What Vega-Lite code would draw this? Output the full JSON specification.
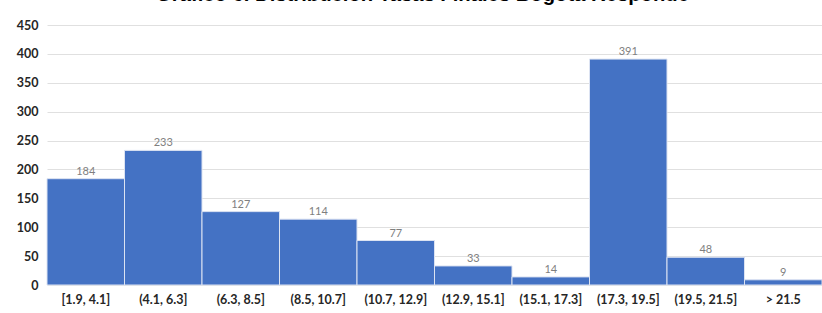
{
  "$schema": "https://vega.github.io/schema/vega-lite/v6.json",
  "autosize": "none",
  "width": 775,
  "height": 260,
  "padding": {"left": 47, "top": 25, "right": 0, "bottom": 28},
  "background": "white",
  "title": {
    "text": "Gráfico 6. Distribución Tasas Finales Bogotá Responde",
    "font": "Liberation Sans",
    "fontSize": 20.25,
    "fontWeight": "bold",
    "color": "#000000",
    "anchor": "middle",
    "baseline": "bottom",
    "offset": 0,
    "dy": 6,
    "dx": -12
  },
  "data": {
    "values": [
      {"rango": "[1.9, 4.1]", "n": 184},
      {"rango": "(4.1, 6.3]", "n": 233},
      {"rango": "(6.3, 8.5]", "n": 127},
      {"rango": "(8.5, 10.7]", "n": 114},
      {"rango": "(10.7, 12.9]", "n": 77},
      {"rango": "(12.9, 15.1]", "n": 33},
      {"rango": "(15.1, 17.3]", "n": 14},
      {"rango": "(17.3, 19.5]", "n": 391},
      {"rango": "(19.5, 21.5]", "n": 48},
      {"rango": "> 21.5", "n": 9}
    ]
  },
  "encoding": {
    "x": {
      "field": "rango",
      "type": "nominal",
      "sort": null,
      "scale": {"paddingInner": 0, "paddingOuter": 0},
      "axis": {
        "title": null,
        "labelAngle": 0,
        "domain": false,
        "ticks": false,
        "labelPadding": 8,
        "labelFont": "Lato",
        "labelFontSize": 12.5,
        "labelFontWeight": "bold",
        "labelColor": "#262626"
      }
    },
    "y": {
      "field": "n",
      "type": "quantitative",
      "scale": {"domain": [0, 450]},
      "axis": {
        "title": null,
        "values": [0, 50, 100, 150, 200, 250, 300, 350, 400, 450],
        "domain": false,
        "ticks": false,
        "labelPadding": 9,
        "labelFont": "Lato",
        "labelFontSize": 12.5,
        "labelFontWeight": "bold",
        "labelColor": "#262626",
        "gridColor": "#e0e0e0",
        "gridWidth": 1
      }
    }
  },
  "layer": [
    {
      "mark": {"type": "bar", "color": "#4472C4", "stroke": "#dce3f2", "strokeWidth": 1}
    },
    {
      "mark": {"type": "text", "baseline": "bottom", "dy": -2, "font": "Lato", "fontSize": 11, "color": "#7f7f7f"},
      "encoding": {"text": {"field": "n", "type": "quantitative"}}
    }
  ],
  "config": {"view": {"stroke": null}}
}
